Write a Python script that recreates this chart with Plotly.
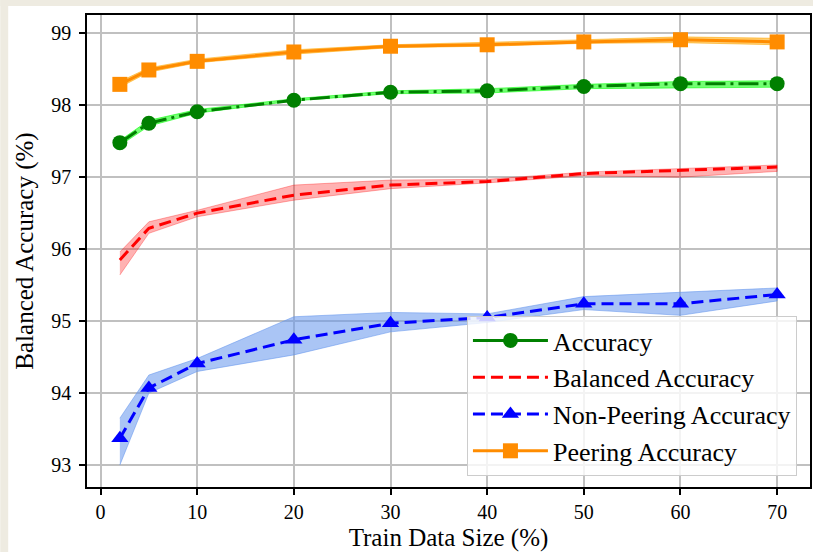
import plotly.graph_objects as go

# Training-set size (% of data)
train_size = [2, 5, 10, 20, 30, 40, 50, 60, 70]

# Mean scores (%) and their spread bands
acc_mean = [97.48, 97.75, 97.91, 98.07, 98.18, 98.20, 98.26, 98.30, 98.30]
acc_lo = [97.44, 97.71, 97.89, 98.06, 98.16, 98.17, 98.23, 98.24, 98.25]
acc_hi = [97.51, 97.79, 97.94, 98.09, 98.20, 98.23, 98.29, 98.33, 98.34]

bal_mean = [95.85, 96.29, 96.50, 96.75, 96.89, 96.94, 97.05, 97.09, 97.14]
bal_lo = [95.64, 96.22, 96.45, 96.68, 96.84, 96.92, 97.02, 97.00, 97.08]
bal_hi = [95.96, 96.38, 96.54, 96.89, 96.96, 96.97, 97.07, 97.12, 97.17]

nonpeer_mean = [93.37, 94.07, 94.41, 94.74, 94.97, 95.05, 95.24, 95.24, 95.37]
nonpeer_lo = [93.00, 94.00, 94.30, 94.53, 94.85, 94.98, 95.16, 95.08, 95.28]
nonpeer_hi = [93.65, 94.25, 94.48, 95.06, 95.12, 95.10, 95.34, 95.40, 95.46]

peer_mean = [98.29, 98.49, 98.61, 98.74, 98.82, 98.84, 98.88, 98.91, 98.88]
peer_lo = [98.25, 98.46, 98.59, 98.71, 98.80, 98.82, 98.86, 98.87, 98.84]
peer_hi = [98.33, 98.52, 98.64, 98.77, 98.84, 98.87, 98.91, 98.95, 98.93]

x_ticks = [0, 10, 20, 30, 40, 50, 60, 70]
y_ticks = [93, 94, 95, 96, 97, 98, 99]

FONT = "Liberation Serif"

series = [
    dict(name="Accuracy", mean=acc_mean, lo=acc_lo, hi=acc_hi,
         color="#008000", fill="rgba(0,255,0,0.55)", dash="20px,5px,3px,5px",
         legend_dash="solid", symbol="circle"),
    dict(name="Balanced Accuracy", mean=bal_mean, lo=bal_lo, hi=bal_hi,
         color="#ff0000", fill="rgba(255,0,0,0.3)", dash="12px,6px",
         legend_dash="12px,6px", symbol=None),
    dict(name="Non-Peering Accuracy", mean=nonpeer_mean, lo=nonpeer_lo, hi=nonpeer_hi,
         color="#0000ff", fill="rgba(100,149,237,0.55)", dash="12px,6px",
         legend_dash="12px,6px", symbol="triangle-up"),
    dict(name="Peering Accuracy", mean=peer_mean, lo=peer_lo, hi=peer_hi,
         color="#ff8c00", fill="rgba(255,165,0,0.55)", dash="solid",
         legend_dash="solid", symbol="square"),
]

fig = go.Figure()

# Shaded spread bands
for s in series:
    fig.add_trace(go.Scatter(
        x=train_size + train_size[::-1],
        y=s["hi"] + s["lo"][::-1],
        fill="toself", fillcolor=s["fill"],
        line=dict(color=s["fill"], width=1),
        mode="lines", hoverinfo="skip", showlegend=False,
    ))

# Mean curves
for s in series:
    mode = "lines+markers" if s["symbol"] else "lines"
    marker = dict(symbol=s["symbol"], size=15, color=s["color"]) if s["symbol"] else None
    fig.add_trace(go.Scatter(
        x=train_size, y=s["mean"], mode=mode, name=s["name"],
        line=dict(color=s["color"], width=3, dash=s["dash"]),
        marker=marker, showlegend=False,
    ))
    # legend handle
    fig.add_trace(go.Scatter(
        x=[None], y=[None], mode=mode, name=s["name"],
        line=dict(color=s["color"], width=3, dash=s["legend_dash"]),
        marker=marker, showlegend=True,
    ))

L, R, T, B = 87, 1, 15, 65
W, H = 813, 552
pw = W - L - R
ph = H - T - B

def px_x(p):
    return (p - L) / pw

def px_y(p):
    return (H - B - p) / ph

beige = "#eeebe1"
fig.add_shape(type="rect", xref="paper", yref="paper",
              x0=px_x(0), x1=px_x(8), y0=px_y(H + 2), y1=px_y(-2),
              fillcolor=beige, line_width=0, layer="below")
fig.add_shape(type="rect", xref="paper", yref="paper",
              x0=px_x(0), x1=px_x(W + 2), y0=px_y(6), y1=px_y(-2),
              fillcolor=beige, line_width=0, layer="below")

axis_common = dict(
    showline=True, linecolor="black", linewidth=1.6, mirror=True,
    ticks="outside", ticklen=6, tickwidth=1.6, tickcolor="black",
    showgrid=True, gridcolor="#c0c0c0", gridwidth=1.6,
    zeroline=False,
    tickfont=dict(family=FONT, size=20, color="black"),
)

fig.update_layout(
    width=W, height=H,
    margin=dict(l=L, r=R, t=T, b=B),
    paper_bgcolor="white", plot_bgcolor="white",
    font=dict(family=FONT, color="black"),
    xaxis=dict(range=[-1.4, 73.4], tickvals=x_ticks,
               title=dict(text="Train Data Size (%)", font=dict(family=FONT, size=25), standoff=8),
               **axis_common),
    yaxis=dict(range=[92.694, 99.254], tickvals=y_ticks,
               title=dict(text="Balanced Accuracy (%)", font=dict(family=FONT, size=25), standoff=10),
               ticklabelstandoff=4,
               **axis_common),
    legend=dict(
        x=px_x(468), y=px_y(316), xanchor="left", yanchor="top",
        bgcolor="rgba(255,255,255,0.8)", bordercolor="#cccccc", borderwidth=1,
        font=dict(family=FONT, size=26, color="black"),
        itemwidth=75, tracegroupgap=0,
    ),
    showlegend=True,
)

fig.write_html("out.html")
